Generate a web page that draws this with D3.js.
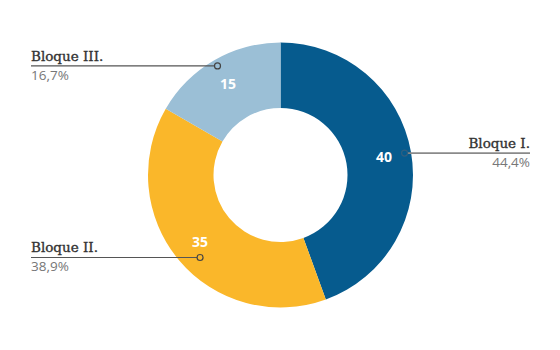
<!DOCTYPE html>
<html>
<head>
<meta charset="utf-8">
<script src="https://cdn.jsdelivr.net/npm/d3@7"></script>
<style>
  html, body { margin: 0; padding: 0; background: #fff; }
  svg { display: block; }
  .name { font-family: "DejaVu Serif", serif; font-size: 13.5px; fill: #333; stroke: #333; stroke-width: 0.35px; }
  .pct { font-family: "Open Sans", sans-serif; font-size: 13.5px; fill: #777; }
  .val { font-family: "Open Sans", sans-serif; font-size: 14px; font-weight: 700; fill: #fff; }
</style>
</head>
<body>
<div id="chart"></div>
<script>
const categories = ["Bloque I.", "Bloque II.", "Bloque III."];
const values = [40, 35, 15];
const percents = ["44,4%", "38,9%", "16,7%"];
const colors = ["#065b8e", "#fab72a", "#9bbfd6"];

const width = 560, height = 350;
const cx = 280.5, cy = 175;
const outerR = 132.5, innerR = 67;

const svg = d3.select("#chart").append("svg").attr("width", width).attr("height", height);
const g = svg.append("g").attr("transform", `translate(${cx},${cy})`);

const data = categories.map((c, i) => ({ name: c, value: values[i], pct: percents[i], color: colors[i] }));
const pie = d3.pie().value((d) => d.value).sort(null);
const arcs = pie(data);
const arc = d3.arc().innerRadius(innerR).outerRadius(outerR);

g.selectAll("path")
  .data(arcs)
  .join("path")
  .attr("d", arc)
  .attr("fill", (d) => d.data.color);

const mid = (d) => (d.startAngle + d.endAngle) / 2;
const polar = (r, a) => [r * Math.sin(a), -r * Math.cos(a)];

// label position on the ring
const valPos = arcs.map((d) => polar(105, mid(d)));
// leader anchor: small tweak for the second slice, like the original
const anchor = arcs.map((d, i) => (i === 1 ? [valPos[i][0], valPos[i][1] + 15] : polar(126, mid(d))));

g.selectAll("text.val")
  .data(arcs)
  .join("text")
  .attr("class", "val")
  .attr("x", (d, i) => valPos[i][0])
  .attr("y", (d, i) => valPos[i][1])
  .attr("dy", "0.35em")
  .attr("text-anchor", "middle")
  .text((d) => d.data.value);

// leader lines: right side ends at x=530, left side starts at x=31
const leftX = 31 - cx, rightX = 530 - cx;
const leaders = g.selectAll("g.leader")
  .data(arcs)
  .join("g")
  .attr("class", "leader");

leaders.append("line")
  .attr("x1", (d, i) => anchor[i][0] + (mid(d) < Math.PI ? 3 : -3))
  .attr("y1", (d, i) => anchor[i][1])
  .attr("x2", (d) => (mid(d) < Math.PI ? rightX : leftX))
  .attr("y2", (d, i) => anchor[i][1])
  .attr("stroke", (d) => (mid(d) < Math.PI ? "#8a8a8a" : "#555"))
  .attr("stroke-width", (d) => (mid(d) < Math.PI ? 1.6 : 1.2));

leaders.append("circle")
  .attr("cx", (d, i) => anchor[i][0])
  .attr("cy", (d, i) => anchor[i][1])
  .attr("r", 3)
  .attr("fill", "none")
  .attr("stroke", (d) => (mid(d) < Math.PI ? "#2f5f80" : "#444"))
  .attr("stroke-width", 1.2);

leaders.append("text")
  .attr("class", "name")
  .attr("x", (d) => (mid(d) < Math.PI ? rightX : leftX))
  .attr("y", (d, i) => anchor[i][1] - 5)
  .attr("text-anchor", (d) => (mid(d) < Math.PI ? "end" : "start"))
  .text((d) => d.data.name);

leaders.append("text")
  .attr("class", "pct")
  .attr("x", (d) => (mid(d) < Math.PI ? rightX : leftX))
  .attr("y", (d, i) => anchor[i][1] + 14)
  .attr("text-anchor", (d) => (mid(d) < Math.PI ? "end" : "start"))
  .text((d) => d.data.pct);
</script>
</body>
</html>
